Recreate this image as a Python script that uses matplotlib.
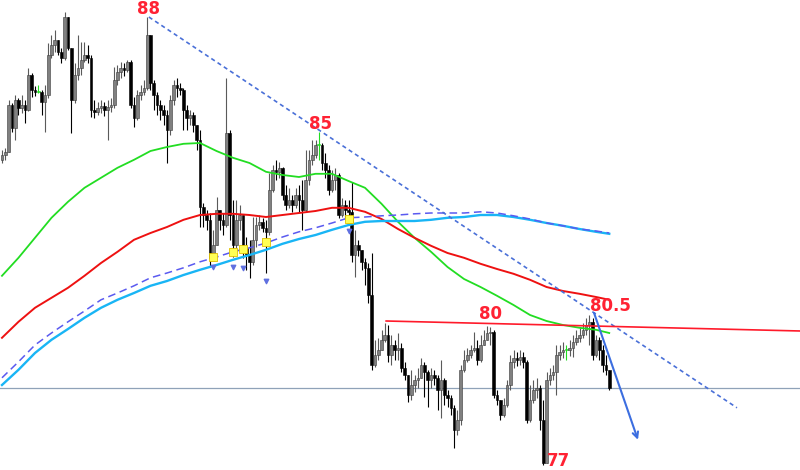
import numpy as np
import matplotlib
matplotlib.use('Agg')
import matplotlib.pyplot as plt

# OHLC: open of each bar = previous close
first_open = 84.43
close = [
    84.55, 84.63, 85.80, 85.23, 85.93, 85.73, 85.80, 85.68, 86.55, 86.18,
    86.13, 86.13, 85.88, 86.05, 87.05, 87.30, 87.43, 87.13, 86.98, 88.00,
    87.23, 85.93, 86.55, 86.73, 86.93, 87.05, 86.98, 85.68, 85.63, 85.73,
    85.78, 85.68, 85.75, 85.80, 86.43, 86.63, 86.73, 86.68, 86.88, 85.80,
    85.48, 86.05, 86.13, 86.23, 87.55, 86.35, 86.05, 85.80, 85.68, 85.55,
    85.18, 85.93, 86.30, 86.23, 86.18, 85.68, 85.48, 85.55, 85.30, 84.93,
    83.25, 83.05, 82.93, 81.98, 82.30, 83.18, 82.93, 82.80, 85.10, 83.05,
    82.30, 82.93, 83.05, 82.23, 82.05, 81.88, 82.43, 82.80, 82.88, 82.73,
    82.63, 83.68, 84.18, 84.13, 84.23, 83.55, 83.30, 83.43, 83.30, 83.55,
    83.43, 83.18, 83.93, 84.43, 84.55, 84.80, 84.80, 84.35, 84.18, 83.68,
    83.93, 84.05, 83.05, 83.30, 83.18, 83.13, 82.05, 82.30, 82.18, 81.88,
    81.73, 81.05, 79.30, 79.55, 79.68, 79.93, 80.05, 79.55, 79.80, 79.68,
    79.73, 79.23, 79.05, 78.55, 78.80, 78.93, 78.98, 79.30, 79.13, 78.93,
    79.05, 78.98, 78.68, 78.93, 78.55, 78.48, 78.23, 77.68, 77.93, 79.18,
    79.43, 79.55, 79.68, 79.73, 79.43, 79.80, 79.93, 80.10, 80.13, 78.55,
    78.43, 78.05, 78.30, 78.80, 79.38, 79.48, 79.43, 79.50, 79.38, 77.93,
    78.43, 78.68, 78.73, 77.93, 76.85, 78.93, 79.05, 79.13, 79.55, 79.63,
    79.68, 79.68, 79.73, 79.88, 79.98, 80.05, 80.18, 80.30, 80.38, 79.55,
    79.93, 79.68, 79.30, 79.18, 78.73,
]
high = [
    84.68, 84.73, 85.93, 85.85, 86.05, 85.98, 86.05, 85.93, 86.73, 86.60,
    86.28, 86.30, 86.18, 86.30, 87.35, 87.55, 87.68, 87.43, 87.23, 88.13,
    88.00, 87.23, 86.85, 87.55, 87.38, 87.38, 87.30, 87.05, 85.93, 85.88,
    85.93, 85.88, 85.93, 85.98, 86.75, 86.80, 86.88, 86.85, 86.93, 86.93,
    86.00, 86.18, 86.30, 86.43, 88.00, 87.55, 86.43, 86.13, 85.93, 85.80,
    85.68, 86.05, 86.43, 86.48, 86.35, 86.23, 85.80, 85.68, 85.63, 85.30,
    85.18, 83.35, 83.18, 83.10, 82.68, 83.50, 83.18, 83.10, 86.48, 85.18,
    83.43, 83.43, 83.30, 83.05, 82.50, 82.43, 83.00, 83.00, 83.05, 82.98,
    82.93, 84.10, 84.30, 84.43, 84.38, 84.25, 83.80, 83.73, 83.55, 83.73,
    83.80, 83.93, 84.68, 84.68, 84.93, 84.93, 85.13, 84.85, 84.60, 84.30,
    84.18, 84.23, 84.10, 83.48, 83.43, 83.43, 83.88, 82.68, 82.43, 82.18,
    81.98, 81.85, 82.10, 79.93, 79.98, 80.18, 80.35, 80.30, 80.05, 79.93,
    80.10, 79.85, 79.38, 79.05, 79.18, 79.05, 79.23, 79.48, 79.38, 79.18,
    79.23, 79.18, 79.05, 79.43, 78.98, 78.68, 78.55, 78.30, 78.18, 79.30,
    79.68, 79.73, 79.80, 80.13, 79.93, 80.05, 80.18, 80.28, 80.25, 80.18,
    78.68, 78.43, 78.48, 78.93, 79.55, 79.68, 79.63, 79.68, 79.63, 79.43,
    78.80, 78.93, 78.98, 78.80, 78.43, 79.13, 79.23, 79.30, 79.80, 79.80,
    79.88, 79.80, 79.93, 80.05, 80.18, 80.23, 80.35, 80.48, 80.55, 80.48,
    80.05, 80.00, 79.80, 79.55, 79.18,
]
low = [
    84.35, 84.43, 84.63, 85.13, 84.93, 85.55, 85.60, 85.35, 85.65, 86.00,
    86.03, 86.10, 85.55, 85.13, 85.98, 86.98, 87.13, 87.05, 86.85, 86.93,
    87.18, 85.10, 85.85, 86.43, 86.55, 86.88, 86.85, 85.50, 85.48, 85.55,
    85.60, 85.53, 84.93, 85.63, 85.73, 86.30, 86.48, 86.53, 86.63, 85.73,
    85.25, 85.43, 85.93, 86.05, 86.18, 86.18, 85.68, 85.55, 85.43, 85.30,
    84.35, 85.05, 85.80, 86.00, 86.05, 85.18, 85.18, 85.30, 85.13, 84.68,
    82.75, 82.75, 82.68, 81.75, 81.93, 82.30, 82.68, 82.55, 82.75, 82.43,
    82.00, 82.23, 82.68, 81.98, 81.68, 81.48, 81.80, 82.25, 82.68, 82.63,
    81.60, 82.55, 83.63, 83.93, 83.98, 83.43, 83.18, 83.23, 83.13, 83.23,
    83.13, 82.68, 83.13, 83.80, 84.30, 84.48, 84.43, 84.18, 83.98, 83.55,
    83.63, 83.68, 82.98, 83.00, 82.98, 82.93, 81.88, 81.50, 82.03, 81.68,
    81.30, 80.85, 79.18, 79.25, 79.43, 79.68, 79.88, 79.38, 79.30, 79.43,
    79.43, 79.13, 78.93, 78.38, 78.43, 78.63, 78.73, 78.98, 78.50, 78.25,
    78.73, 78.80, 78.18, 77.98, 78.30, 78.25, 78.05, 77.23, 77.55, 77.80,
    79.13, 79.38, 79.48, 79.63, 79.30, 79.38, 79.80, 79.93, 79.80, 78.48,
    78.30, 77.93, 78.00, 78.25, 78.68, 79.23, 79.28, 79.30, 79.23, 77.85,
    77.88, 78.35, 78.48, 77.68, 76.80, 76.85, 78.80, 78.93, 78.55, 79.43,
    79.48, 79.43, 79.53, 79.50, 79.80, 79.88, 79.98, 80.05, 79.80, 79.43,
    79.50, 79.43, 79.13, 79.05, 78.68,
]

# moving averages read every 5 bars
ma_idx = list(range(0, 185, 5)) + [184]
ma_green = [81.53, 81.98, 82.48, 82.98, 83.38, 83.73, 83.98, 84.23, 84.43, 84.65,
            84.75, 84.83, 84.85, 84.65, 84.48, 84.35, 84.13, 84.05, 84.00, 84.08,
            84.08, 83.90, 83.73, 83.33, 82.88, 82.48, 82.13, 81.75, 81.45, 81.25,
            81.03, 80.80, 80.55, 80.40, 80.30, 80.23, 80.18, 80.10]
ma_red = [79.98, 80.38, 80.73, 80.98, 81.23, 81.53, 81.85, 82.13, 82.43, 82.60,
          82.75, 82.93, 83.05, 83.08, 83.08, 83.05, 83.00, 83.05, 83.10, 83.15,
          83.23, 83.23, 83.13, 82.95, 82.70, 82.48, 82.28, 82.10, 81.98, 81.83,
          81.70, 81.58, 81.43, 81.25, 81.15, 81.08, 81.00, 80.93]
ma_dash = [78.98, 79.38, 79.80, 80.10, 80.38, 80.65, 80.93, 81.10, 81.28, 81.48,
           81.60, 81.73, 81.88, 82.00, 82.13, 82.23, 82.35, 82.50, 82.63, 82.73,
           82.85, 82.98, 83.00, 83.03, 83.05, 83.08, 83.10, 83.10, 83.10, 83.13,
           83.10, 83.03, 82.95, 82.85, 82.78, 82.70, 82.65, 82.60]
ma_cyan = [78.80, 79.18, 79.60, 79.93, 80.20, 80.48, 80.73, 80.93, 81.10, 81.28,
           81.40, 81.55, 81.68, 81.80, 81.93, 82.05, 82.18, 82.33, 82.45, 82.55,
           82.68, 82.80, 82.88, 82.90, 82.90, 82.90, 82.93, 82.98, 83.00, 83.05,
           83.05, 83.00, 82.93, 82.85, 82.78, 82.70, 82.63, 82.58]

# signal markers
sig_idx = [64, 70, 73, 80, 105]
sig_price = [82.00, 82.13, 82.20, 82.38, 82.95]
sig_arrow = [81.75, 81.75, 81.73, 81.40, 82.65]

# labels
label_text = ['88', '85', '80', '80.5', '77']
label_idx = [44.5, 96.4, 147.9, 184.5, 168.5]
label_price = [88.20, 85.33, 80.58, 80.78, 76.90]

# drawn lines
trend_idx = [44.5, 222.7]
trend_price = [88.00, 78.23]
level_idx = [116.4, 242.0]
level_price = [80.40, 80.15]
arrow_idx = [179.4, 192.7]
arrow_price = [80.60, 77.43]
last_price = 78.73

opens = [first_open] + close[:-1]
n = len(close)

fig = plt.figure(figsize=(8, 4.7), dpi=100)
ax = fig.add_axes([0, 0, 1, 1])
ax.set_xlim(-0.6, 241.8)
ax.set_ylim(76.675, 88.425)
ax.axis('off')

ax.axhline(last_price, color='#8fa2b8', lw=0.9, zorder=1)

for i in range(n):
    o, c, h, l = opens[i], close[i], high[i], low[i]
    if abs(c - o) < 0.005:
        col, edge = '#22dd22', '#22dd22'
    elif c > o:
        col, edge = '#808080', '#3a3a3a'
    else:
        col, edge = '#000000', '#000000'
    ax.vlines(i, l, h, color=edge if c <= o else '#5a5a5a', lw=0.8, zorder=3)
    ax.bar(i, max(abs(c - o), 0.02), bottom=min(o, c), width=0.8,
           color=col, edgecolor=edge, lw=0.4, zorder=3)

ax.plot(ma_idx, ma_green, color='#22dd22', lw=1.3, zorder=4)
ax.plot(ma_idx, ma_red, color='#ee1111', lw=1.4, zorder=4)
ax.plot(ma_idx, ma_cyan, color='#19b5f5', lw=1.7, zorder=4)
ax.plot(ma_idx, ma_dash, color='#5a5af0', lw=1.1, ls=(0, (5, 3)), zorder=5)

ax.plot(trend_idx, trend_price, color='#4a70d8', lw=1.2, ls=(0, (2.5, 2)), zorder=5)
ax.plot(level_idx, level_price, color='#ff1a2a', lw=1.2, zorder=5)
ax.annotate('', xy=(arrow_idx[1], arrow_price[1]), xytext=(arrow_idx[0], arrow_price[0]),
            arrowprops=dict(arrowstyle='->', color='#3c6ee0', lw=1.5,
                            shrinkA=0, shrinkB=0), zorder=6)

ax.scatter(sig_idx, sig_price, marker='s', s=40, color='#ffff55',
           edgecolors='#e0c000', linewidths=0.6, zorder=6)
ax.scatter(sig_idx, sig_arrow, marker='v', s=10, color='#6070e0', zorder=6)

for t, xi, yi in zip(label_text, label_idx, label_price):
    ax.text(xi, yi, t, color='#ff2233', fontsize=12, fontweight='bold',
            ha='center', va='center', zorder=7)

fig.savefig('out.png', dpi=100, facecolor='white')
